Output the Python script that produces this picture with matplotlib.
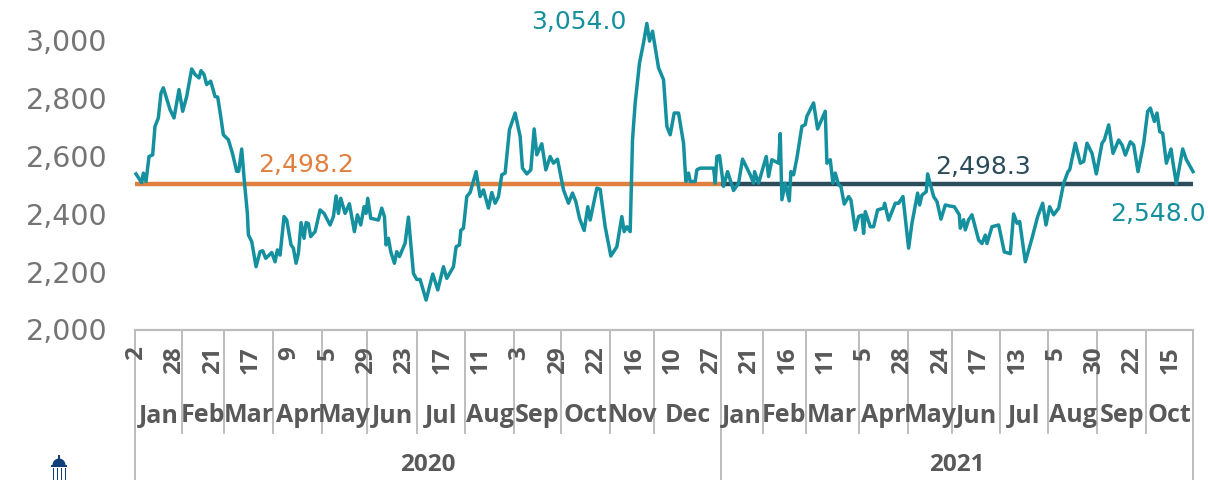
import numpy as np
import matplotlib
matplotlib.use("Agg")
import matplotlib.pyplot as plt
from matplotlib.patches import Rectangle, Wedge

W, H = 1208, 481
TOTAL = 497

# Price series: position along the category axis (trace units) and value
pos_a = [408,425,430,438,447,458,465,475,483,490,510,522,537,548,560,575,585,597,603,612,620,632,645,653,662,670,685,697,710,716,725,733,742,745,755,768,780,788,797,815,825,832,840,852,860,873,880,888,895,903,912,918,925,932,945,960,972,990,1000,1008,1015,1022,1035,1048,1063,1072,1082,1092,1098,1103,1112,1135,1145,1153,1158,1165,1172,1183,1190,1198]
val_a = [2533,2503,2536,2507,2593,2599,2697,2726,2812,2830,2755,2726,2824,2749,2800,2895,2876,2864,2889,2876,2841,2853,2800,2798,2732,2668,2651,2605,2542,2542,2619,2507,2397,2323,2300,2213,2265,2268,2242,2262,2230,2271,2253,2386,2374,2288,2277,2225,2259,2365,2311,2365,2362,2317,2334,2409,2397,2357,2386,2457,2397,2449,2397,2430,2334,2392,2357,2420,2397,2449,2380,2374,2415,2386,2288,2311,2265,2225,2265,2248]
pos_b = [1215,1225,1240,1250,1260,1278,1298,1313,1330,1340,1360,1368,1378,1382,1390,1400,1410,1428,1440,1450,1465,1475,1485,1495,1505,1515,1528,1545,1560,1567,1580,1592,1602,1610,1625,1637,1650,1660,1672,1690,1705,1717,1727,1738,1752,1763,1770,1790,1800,1815,1832,1850,1865,1872,1880,1890,1897,1905,1918,1930,1940,1948,1957,1975,1990,2000,2010,2022,2035,2050,2057,2065,2070,2085,2090,2100,2140,2145,2150,2158,2170,2182,2200,2215,2227,2250,2260,2263,2275,2298,2305,2315,2335,2340,2345,2355,2367,2372,2380,2390,2405,2415]
val_b = [2294,2384,2190,2169,2169,2098,2188,2133,2213,2173,2213,2282,2288,2338,2346,2455,2469,2541,2455,2478,2415,2469,2432,2455,2530,2536,2686,2743,2662,2553,2533,2547,2688,2599,2637,2547,2593,2570,2584,2478,2432,2467,2438,2380,2338,2420,2374,2484,2480,2351,2250,2282,2386,2334,2351,2334,2651,2778,2916,2985,3052,2991,3025,2899,2858,2697,2668,2743,2743,2639,2507,2536,2507,2507,2547,2553,2553,2501,2593,2596,2490,2541,2476,2501,2584,2530,2501,2541,2501,2593,2524,2582,2570,2672,2444,2501,2440,2541,2530,2588,2697,2703]
pos_c = [2420,2440,2452,2475,2480,2490,2498,2505,2515,2522,2532,2545,2552,2565,2575,2585,2590,2595,2610,2620,2632,2650,2653,2665,2685,2695,2708,2725,2735,2752,2758,2765,2778,2782,2800,2810,2822,2835,2850,2862,2877,2880,2890,2895,2905,2915,2935,2945,2955,2960,2975,2995,3012,3030,3040,3050,3058,3075,3095,3112,3127,3137,3148,3160,3175,3190,3203,3208,3225,3240,3250,3260,3275,3288,3305,3312,3325,3338,3355,3365,3375,3390,3400,3413,3430,3442,3450,3462,3470,3478,3487,3498,3512,3518,3528,3547,3558,3578]
val_c = [2732,2778,2688,2749,2570,2582,2501,2536,2495,2490,2429,2455,2443,2340,2386,2391,2328,2403,2351,2351,2409,2415,2432,2374,2432,2432,2455,2277,2363,2467,2426,2460,2472,2533,2455,2438,2377,2426,2422,2420,2392,2346,2375,2340,2375,2392,2305,2293,2322,2293,2351,2357,2264,2258,2395,2363,2369,2230,2311,2386,2432,2357,2420,2392,2415,2501,2541,2547,2639,2570,2576,2639,2604,2533,2639,2650,2702,2604,2650,2633,2598,2644,2633,2541,2639,2749,2760,2714,2743,2679,2673,2570,2619,2570,2499,2619,2582,2541]
start_pos = 405
pos_per_session = 6.384

mean_2020 = 2498.2
mean_2021 = 2498.3
mean_split = 275.5

yticks = [2000, 2200, 2400, 2600, 2800, 3000]
day_labels = ["2","28","21","17","9","5","29","23","17","11","3","29","22","16","10","27","21","16","11","5","28","24","17","13","5","30","22","15"]
day_step = 18
months = ["Jan","Feb","Mar","Apr","May","Jun","Jul","Aug","Sep","Oct","Nov","Dec","Jan","Feb","Mar","Apr","May","Jun","Jul","Aug","Sep","Oct"]
month_edges = [0,22,42,65,88,109,132.5,155,178,200,223,244,275.5,295,315,340,363,384,406.5,429,452,475,497]
year_edges = [0,275.5,497]
years = ["2020","2021"]

TEAL = "#15909F"
ORANGE = "#E0803F"
DARK = "#2C4C5C"
GREY = "#747474"
FRAME = "#BDBDBD"
CAT = "#595959"
NUM_FONT = ["DejaVu Sans"]
CAT_FONT = ["Open Sans", "DejaVu Sans"]

pos = np.array(pos_a + pos_b + pos_c, dtype=float)
val = np.array(val_a + val_b + val_c, dtype=float)
sessions = (pos - start_pos) / pos_per_session

fig = plt.figure(figsize=(W / 100, H / 100), dpi=100)
fig.patch.set_facecolor("white")

# Main plot: 2000 sits at pixel 329, 3000 at 39
ax = fig.add_axes([135 / W, (H - 329.5) / H, 1058 / W, 319 / H])
ax.set_xlim(0, TOTAL)
ax.set_ylim(2000, 3100)
ax.patch.set_alpha(0)
for s in ax.spines.values():
    s.set_visible(False)
ax.set_xticks([])
ax.set_yticks(yticks)
ax.set_yticklabels([f"{v:,}" for v in yticks], fontsize=20.5, color=GREY, family=NUM_FONT)
ax.tick_params(axis="y", length=0, pad=20)

ax.plot([0, mean_split], [mean_2020, mean_2020], color=ORANGE, lw=3.2, solid_capstyle="butt", zorder=2)
ax.plot([mean_split, TOTAL], [mean_2021, mean_2021], color=DARK, lw=3.2, solid_capstyle="butt", zorder=2)
ax.plot(sessions, val, color=TEAL, lw=2.5, solid_joinstyle="round", zorder=3, clip_on=False)

lab = dict(family=NUM_FONT, fontsize=18, va="center")
ax.text(58, 2566, "2,498.2", color=ORANGE, ha="left", **lab)
ax.text(376, 2562, "2,498.3", color=DARK, ha="left", **lab)
ax.text(231, 3059, "3,054.0", color=TEAL, ha="right", **lab)
ax.text(503, 2397, "2,548.0", color=TEAL, ha="right", clip_on=False, **lab)

# Multi-level category axis: y counted in pixels below the top of the frame
cx = fig.add_axes([135 / W, 0, 1058 / W, (H - 330) / H])
cx.set_xlim(0, TOTAL)
cx.set_ylim(H, 330)
cx.axis("off")
cx.plot([0, TOTAL], [331, 331], color=FRAME, lw=1.6, clip_on=False)
for e in month_edges:
    cx.plot([e, e], [331, 434], color=FRAME, lw=1.4, clip_on=False)
for e in year_edges:
    cx.plot([e, e], [331, H], color=FRAME, lw=1.4, clip_on=False)

for k, d in enumerate(day_labels):
    cx.text(0.5 + k * day_step, 346, d, rotation=90, ha="center", va="top", fontsize=17.5,
            color=CAT, family=CAT_FONT, fontweight="bold", clip_on=False)
for i, m in enumerate(months):
    cx.text((month_edges[i] + month_edges[i + 1]) / 2, 416, m, ha="center", va="center", fontsize=18,
            color=CAT, family=CAT_FONT, fontweight="bold", clip_on=False)
for i, y in enumerate(years):
    cx.text((year_edges[i] + year_edges[i + 1]) / 2, 465, y, ha="center", va="center", fontsize=17.5,
            color=CAT, family=CAT_FONT, fontweight="bold", clip_on=False)

# Small capitol logo, bottom left
ix = fig.add_axes([0, 0, 1, 1])
ix.set_xlim(0, W)
ix.set_ylim(H, 0)
ix.axis("off")
ix.patch.set_alpha(0)
NAVY = "#123F7A"
ix.add_patch(Wedge((59, 466), 6.5, 180, 0, color=NAVY, lw=0))
ix.add_patch(Rectangle((51, 466), 16, 2, color=NAVY, lw=0))
ix.add_patch(Rectangle((58.2, 456), 1.6, 4, color=NAVY, lw=0))
for cxp in (53, 57, 61, 65):
    ix.add_patch(Rectangle((cxp - 0.2, 469), 1.6, 12, color=NAVY, lw=0))

fig.savefig("out.png", dpi=100)
